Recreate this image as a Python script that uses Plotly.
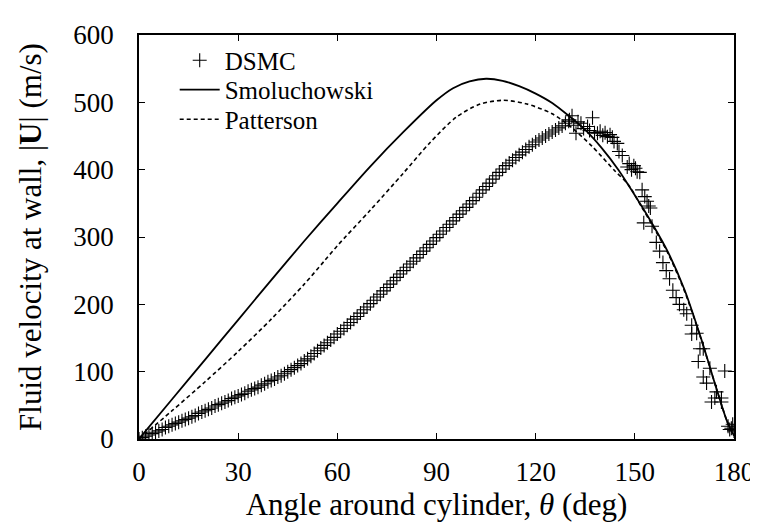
import plotly.graph_objects as go

# DSMC data (angle in degrees, |U| in m/s)
dsmc_theta = list(range(0, 131)) + [
    130.2, 131.0, 131.5, 132.2, 132.8, 133.7, 134.5, 135.7, 136.3, 137.2, 137.8, 138.7,
    139.5, 140.3, 141.0, 141.7, 142.5, 143.2, 143.7, 144.7, 145.2, 146.2, 147.7, 148.3,
    149.0, 149.7, 150.2, 150.7, 151.5, 152.2, 153.0, 153.7, 154.2, 154.7, 152.7, 155.2,
    156.5, 157.5, 158.5, 159.5, 160.5, 161.5, 162.5, 163.5, 164.8,
    165.7, 167.2, 167.2, 168.7, 169.2, 169.7, 170.7, 170.7,
    171.7, 172.7, 173.2, 174.2, 174.7, 176.2, 176.2, 177.2, 178.2, 178.7, 179.2,
    179.6, 180.0]
dsmc_u = [
    0, 2, 4, 6, 8, 10, 12, 14, 17, 19, 21,
    23, 25, 27, 29, 31, 33, 35, 38, 40, 42,
    44, 46, 49, 51, 53, 55, 57, 60, 62, 64,
    66, 68, 71, 73, 75, 77, 80, 82, 85, 87,
    89, 92, 94, 97, 100, 103, 106, 109, 112, 116,
    119, 123, 127, 131, 135, 139, 143, 147, 151, 156,
    160, 164, 169, 173, 178, 182, 187, 192, 196, 201,
    206, 211, 215, 220, 225, 230, 235, 240, 245, 250,
    255, 260, 264, 269, 274, 279, 284, 289, 294, 299,
    304, 309, 314, 319, 324, 329, 334, 339, 344, 349,
    354, 359, 365, 370, 375, 380, 386, 391, 396, 401,
    406, 410, 414, 418, 422, 426, 430, 434, 437, 441,
    444, 447, 450, 453, 456, 459, 462, 465, 469, 472,
    474, 480, 466, 454, 471, 469, 461, 464, 458, 477, 455, 454,
    457, 451, 455, 449, 452, 448, 442, 439, 427, 421, 404, 409,
    400, 406, 402, 397, 396, 370, 360, 353, 346, 343, 321, 316,
    292, 279, 262, 250, 238, 221, 210, 200, 192,
    186, 169, 156, 157, 115, 134, 134, 92,
    83, 105, 55, 61, 70, 61, 55, 101, 19, 14, 16,
    22, 12]

# Smoluchowski slip model
smol_theta = [0, 10, 20, 30, 40, 50, 60, 70, 80, 90, 95, 100, 105, 110, 115, 120,
              125, 130, 135, 140, 145, 150, 155, 160, 165, 170, 175, 178, 180]
smol_u = [0, 59, 118, 177, 236, 294, 350, 405, 456, 503, 521, 531, 535, 532, 524, 513,
          499, 480, 459, 432, 400, 362, 322, 278, 222, 150, 70, 25, 5]

# Patterson slip model
patt_theta = [0, 10, 20, 30, 40, 50, 56, 60, 70, 80, 88, 96, 103, 110, 117, 125,
              131, 137, 144, 148, 152, 155, 160, 165, 170, 175, 178, 180]
patt_u = [0, 42, 85, 130, 178, 230, 264, 287, 340, 395, 440, 478, 497, 503, 498, 483,
          462, 435, 398, 378, 345, 320, 276, 220, 149, 70, 25, 5]

x_ticks = [0, 30, 60, 90, 120, 150, 180]
y_ticks = [0, 100, 200, 300, 400, 500, 600]

FONT = "Liberation Serif"
LEG_FONT = dict(family=FONT, size=25, color="black")

fig = go.Figure()
fig.add_trace(go.Scatter(
    x=dsmc_theta, y=dsmc_u, mode="markers", name="DSMC", legend="legend",
    marker=dict(symbol="cross-thin", size=10, color="black",
                line=dict(color="black", width=1.1)),
))
fig.add_trace(go.Scatter(
    x=smol_theta, y=smol_u, mode="lines", name="Smoluchowski", legend="legend2",
    line=dict(color="black", width=1.8, shape="spline", smoothing=0.8),
))
fig.add_trace(go.Scatter(
    x=patt_theta, y=patt_u, mode="lines", name="Patterson", legend="legend3",
    line=dict(color="black", width=1.6, dash="4px,3px", shape="spline", smoothing=0.8),
))

axis_common = dict(
    showline=True, linecolor="black", linewidth=1.5, mirror="allticks",
    ticks="inside", ticklen=6, tickwidth=1, tickcolor="black",
    showgrid=False, zeroline=False,
    tickfont=dict(family=FONT, size=27, color="black"),
)

leg_common = dict(xanchor="left", yanchor="middle", bgcolor="rgba(0,0,0,0)",
                  borderwidth=0, font=LEG_FONT, itemwidth=40)

fig.update_layout(
    width=758, height=524,
    margin=dict(l=131, r=27, t=20, b=93),
    paper_bgcolor="white", plot_bgcolor="white",
    font=dict(family=FONT, size=27, color="black"),
    xaxis=dict(range=[0, 180], tickvals=x_ticks, ticklabelstandoff=8,
               title=dict(text="Angle around cylinder, <i>θ</i> (deg)", standoff=3,
                          font=dict(family=FONT, size=31)),
               **axis_common),
    yaxis=dict(range=[0, 600], tickvals=y_ticks, ticklabelstandoff=18,
               title=dict(text="Fluid velocity at wall, |<b>U</b>| (m/s)", standoff=22,
                          font=dict(family=FONT, size=31)),
               **axis_common),
    legend=dict(x=0.06, y=0.937, **leg_common),
    legend2=dict(x=0.06, y=0.864, **leg_common),
    legend3=dict(x=0.06, y=0.791, **leg_common),
    showlegend=True,
)

fig.write_html("out.html")
